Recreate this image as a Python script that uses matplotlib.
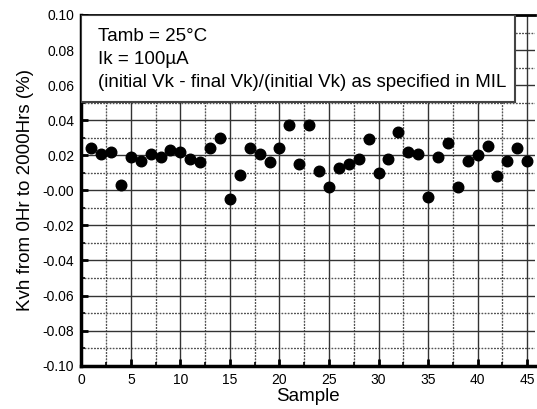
import matplotlib
matplotlib.use("Agg")
import matplotlib.pyplot as plt
from matplotlib.patches import Rectangle
from matplotlib.ticker import MultipleLocator, FormatStrFormatter

plt.rcParams['font.family'] = ['Liberation Sans', 'DejaVu Sans']

samples = list(range(1, 46))
kvh_shift = [0.024, 0.021, 0.022, 0.003, 0.019, 0.017, 0.021, 0.019, 0.023, 0.022,
             0.018, 0.016, 0.024, 0.030, -0.005, 0.009, 0.024, 0.021, 0.016, 0.024,
             0.037, 0.015, 0.037, 0.011, 0.002, 0.013, 0.015, 0.018, 0.029, 0.010,
             0.018, 0.033, 0.022, 0.021, -0.004, 0.019, 0.027, 0.002, 0.017, 0.020,
             0.025, 0.008, 0.017, 0.024, 0.017]

conditions = ["Tamb = 25\u00b0C", "Ik = 100\u00b5A",
              "(initial Vk - final Vk)/(initial Vk) as specified in MIL"]

fig = plt.figure(figsize=(5.37, 4.09), dpi=100)
ax = fig.add_axes([0.1514, 0.1059, 0.845, 0.8575])

x_min, x_max = 0, 45.8
y_min, y_max = -0.10, 0.10
ax.set_xlim(x_min, x_max)
ax.set_ylim(y_min, y_max)
ax.xaxis.set_major_locator(MultipleLocator(5))
ax.xaxis.set_minor_locator(MultipleLocator(2.5))
ax.yaxis.set_major_locator(MultipleLocator(0.02))
ax.yaxis.set_minor_locator(MultipleLocator(0.01))
ax.yaxis.set_major_formatter(FormatStrFormatter('%.2f'))

ax.tick_params(which='major', direction='in', length=5, width=2, labelsize=10,
               color='black', pad=5)
ax.tick_params(which='minor', direction='in', length=3, width=1.2, color='black')

# grid drawn as zero-width spans at the locator positions
major_style = dict(fill=False, edgecolor='#333333', linewidth=1.0,
                   linestyle='-', zorder=1)
minor_style = dict(fill=False, edgecolor='#555555', linewidth=0.9,
                   linestyle=(0, (1, 1.5)), zorder=1)

def inside(vals, lo, hi):
    return [v for v in vals if lo < v < hi - 1e-9]

def not_major(vals, majors, tol):
    return [v for v in vals if min(abs(v - m) for m in majors) > tol]

x_major = inside(ax.xaxis.get_major_locator().tick_values(x_min, x_max), x_min, x_max)
x_minor = inside(ax.xaxis.get_minor_locator().tick_values(x_min, x_max), x_min, x_max)
y_major = inside(ax.yaxis.get_major_locator().tick_values(y_min, y_max), y_min, y_max)
y_minor = inside(ax.yaxis.get_minor_locator().tick_values(y_min, y_max), y_min, y_max)

for v in not_major(x_minor, x_major, 1e-6):
    ax.axvspan(v, v, **minor_style)
for v in not_major(y_minor, y_major, 1e-9):
    ax.axhspan(v, v, **minor_style)
for v in x_major:
    ax.axvspan(v, v, **major_style)
for v in y_major:
    ax.axhspan(v, v, **major_style)

for side in ('left', 'bottom'):
    ax.spines[side].set_linewidth(2.5)
ax.spines['top'].set_linewidth(2.0)
ax.spines['right'].set_visible(False)

ax.plot(samples, kvh_shift, linestyle='none', marker='o', markersize=7.6,
        color='black', zorder=3)

ax.set_xlabel("Sample", fontsize=13.5, labelpad=1)
ax.set_ylabel("Kvh from 0Hr to 2000Hrs (%)", fontsize=13.5, labelpad=6)

# condition box in the upper left
box = Rectangle((0.0, 0.752), 0.956, 0.248, transform=ax.transAxes,
                facecolor='white', edgecolor='#444444', linewidth=1.5, zorder=4)
ax.add_patch(box)
for i, line in enumerate(conditions):
    ax.text(0.036, 0.927 - i * 0.0655, line, transform=ax.transAxes,
            fontsize=13.5, va='baseline', ha='left', zorder=5)

fig.savefig("out.png", dpi=100)
